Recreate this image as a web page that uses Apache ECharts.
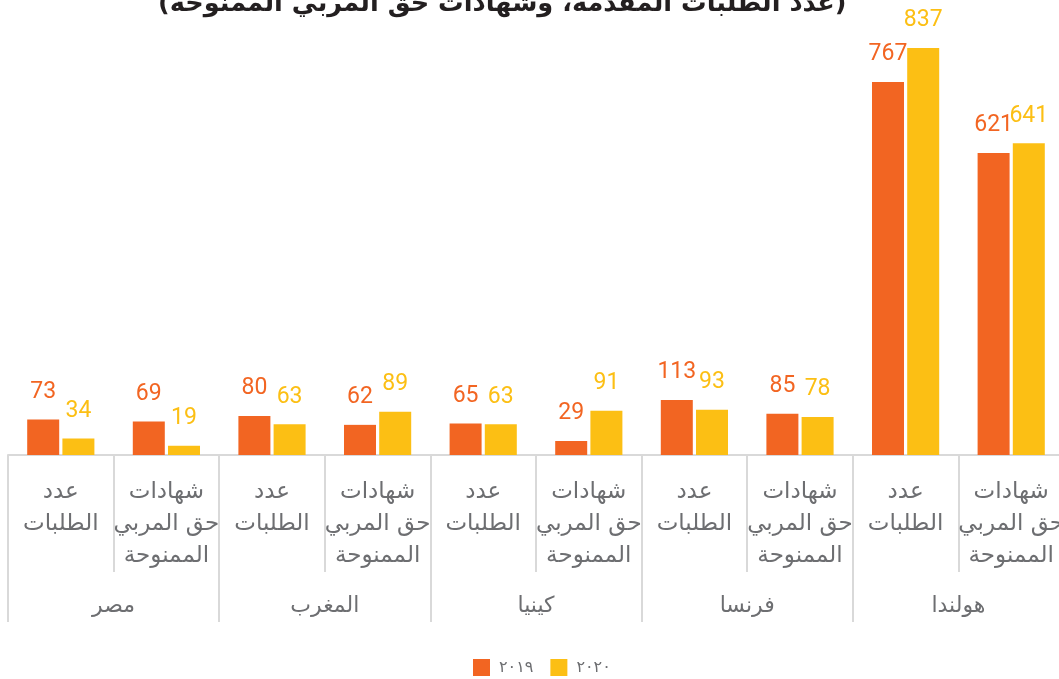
<!DOCTYPE html>
<html>
<head>
<meta charset="utf-8">
<script src="https://cdn.jsdelivr.net/npm/echarts@6/dist/echarts.min.js"></script>
<style>
  html, body { margin: 0; padding: 0; background: #fff; }
  #main { width: 1059px; height: 679px; direction: rtl; }
</style>
</head>
<body>
<div id="main" dir="rtl"></div>
<script>
var titleText = "(عدد الطلبات المقدمة، وشهادات حق المربي الممنوحة)";
var countries = ["مصر", "المغرب", "كينيا", "فرنسا", "هولندا"];
var subCats = [
  "عدد\nالطلبات", "شهادات\nحق المربي\nالممنوحة",
  "عدد\nالطلبات", "شهادات\nحق المربي\nالممنوحة",
  "عدد\nالطلبات", "شهادات\nحق المربي\nالممنوحة",
  "عدد\nالطلبات", "شهادات\nحق المربي\nالممنوحة",
  "عدد\nالطلبات", "شهادات\nحق المربي\nالممنوحة"
];
var seriesNames = ["٢٠١٩", "٢٠٢٠"];
var values2019 = [73, 69, 80, 62, 65, 29, 113, 85, 767, 621];
var values2020 = [34, 19, 63, 89, 63, 91, 93, 78, 837, 641];

var orange = "#F26522";
var yellow = "#FCBF14";
var grey = "#6d6e71";
var lineGrey = "#d9d9d9";
var font = "'DejaVu Sans', 'Noto Sans', sans-serif";

var chart = echarts.init(document.getElementById("main"));

function barSeries(name, data, color){
    return {
        name: name,
        type: "bar",
        data: data,
        barWidth: 32,
        barGap: "10%",
        itemStyle: { color: color },
        label: {
            show: true,
            position: "top",
            distance: 16,
            color: color,
            fontSize: 23,
            fontFamily: "Roboto, 'Noto Sans', sans-serif"
        }
    };
}

var option = {
    animation: false,
    title: {
        text: titleText,
        left: 158,
        top: -9,
        padding: 0,
        textStyle: { fontSize: 25.6, fontWeight: "bold", color: "#231f20", fontFamily: font }
    },
    legend: {
        data: seriesNames,
        left: 473,
        top: 659,
        padding: 0,
        icon: "rect",
        itemWidth: 17,
        itemHeight: 17,
        itemGap: 17,
        textStyle: { fontSize: 16, color: grey, fontFamily: font, padding: [0, 0, 0, 4] }
    },
    grid: { left: 8, width: 1056, top: 48, bottom: 224, containLabel: false, outerBoundsMode: "none" },
    xAxis: [
        {
            type: "category",
            data: subCats,
            position: "bottom",
            axisLine: { show: true, lineStyle: { color: lineGrey, width: 2 } },
            axisTick: { show: true, interval: 0, length: 117, lineStyle: { color: lineGrey, width: 2 } },
            axisLabel: { interval: 0, margin: 21, fontSize: 23, lineHeight: 32, color: grey, fontFamily: font }
        },
        {
            type: "category",
            data: countries,
            position: "bottom",
            axisLine: { show: false },
            axisTick: { show: true, interval: 0, length: 167, lineStyle: { color: lineGrey, width: 2 } },
            axisLabel: { interval: 0, margin: 140, fontSize: 22, color: grey, fontFamily: font }
        }
    ],
    yAxis: {
        type: "value",
        min: 0,
        max: 837,
        show: false,
        splitLine: { show: false }
    },
    series: [
        barSeries(seriesNames[0], values2019, orange),
        barSeries(seriesNames[1], values2020, yellow)
    ]
};
chart.setOption(option);
</script>
</body>
</html>
